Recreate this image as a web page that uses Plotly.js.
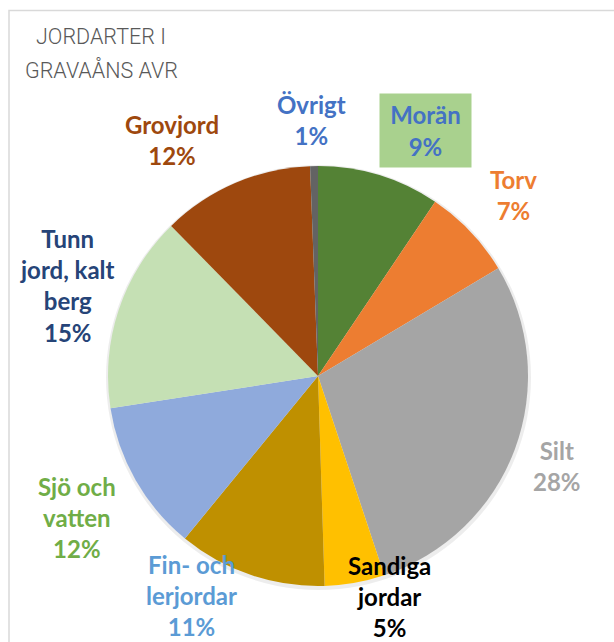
<!DOCTYPE html>
<html>
<head>
<meta charset="utf-8">
<script src="https://cdn.plot.ly/plotly-3.0.1.min.js"></script>
<style>html,body{margin:0;padding:0;background:#fff}#chart{width:614px;height:642px}</style>
</head>
<body>
<div id="chart"></div>
<script>
// ---- data ----
var categories = ["Morän", "Torv", "Silt", "Sandiga jordar", "Fin- och lerjordar", "Sjö och vatten", "Tunn jord, kalt berg", "Grovjord", "Övrigt"];
var values     = [9.4, 7.0, 28.4, 4.6, 11.4, 11.6, 15.1, 11.7, 0.6];
var titleLines = ["JORDARTER I", "GRAVAÅNS AVR"];

// ---- styling / layout ----
var sliceColors = ["#548235", "#ED7D31", "#A5A5A5", "#FFC000", "#BF9000", "#8FAADC", "#C5E0B4", "#9E480E", "#636363"];
var labelColors = ["#4472C4", "#ED7D31", "#A5A5A5", "#000000", "#5B9BD5", "#70AD47", "#264478", "#9E480E", "#4472C4"];
var labelWrap   = ["Morän", "Torv", "Silt", "Sandiga<br>jordar", "Fin- och<br>lerjordar", "Sjö och<br>vatten", "Tunn<br>jord, kalt<br>berg", "Grovjord", "Övrigt"];
var labelPos    = [[425,131],[513,195],[557,466],[390,596],[192,595],[77,517],[67,286],[172,140],[311,120]];
var titlePosY   = [37, 70];
var W = 614, H = 642;
var cx = 318, cy = 376, R = 210;

var total = values.reduce(function(a,b){return a+b;}, 0);
var annotations = categories.map(function(c, i){
  var pct = Math.round(values[i] / total * 100) + "%";
  var a = {
    text: labelWrap[i] + "<br>" + pct,
    xref: "paper", yref: "paper",
    x: labelPos[i][0] / W, y: 1 - labelPos[i][1] / H,
    xanchor: "center", yanchor: "middle",
    showarrow: false, align: "center",
    font: {family: "Lato, 'Open Sans', sans-serif", size: 24, color: labelColors[i], weight: "bold"}
  };
  if (i === 0) { a.bgcolor = "#A9D18E"; a.width = 91; a.height = 73; a.borderpad = 0; }
  return a;
});

// title lines
titleLines.forEach(function(t, i){
  annotations.push({
    text: t,
    xref: "paper", yref: "paper",
    x: 101 / W, y: 1 - titlePosY[i] / H,
    xanchor: "center", yanchor: "middle",
    showarrow: false, align: "center",
    font: {family: "Roboto, sans-serif", size: 21.5, color: "#595959", weight: 300}
  });
});

var trace = {
  type: "pie",
  labels: categories,
  values: values,
  sort: false,
  direction: "clockwise",
  rotation: 0,
  marker: {colors: sliceColors, line: {width: 0}},
  textinfo: "none",
  textposition: "none",
  hoverinfo: "label+percent",
  showlegend: false,
  domain: {x: [(cx - R) / W, (cx + R) / W], y: [1 - (cy + R) / H, 1 - (cy - R) / H]}
};

var layout = {
  width: W, height: H,
  margin: {l: 0, r: 0, t: 0, b: 0},
  paper_bgcolor: "#ffffff",
  showlegend: false,
  annotations: annotations,
  shapes: [
    {type: "circle", xref: "paper", yref: "paper", layer: "below",
     x0: (cx - R - 2) / W, x1: (cx + R + 3) / W, y0: 1 - (cy + R + 4) / H, y1: 1 - (cy - R - 1) / H,
     fillcolor: "rgba(0,0,0,0.07)", line: {width: 0}},
    {type: "rect", xref: "paper", yref: "paper", layer: "above",
     x0: 9 / W, x1: 1.05, y0: -0.05, y1: 1 - 10.5 / H,
     line: {color: "#D9D9D9", width: 1.5}, fillcolor: "rgba(0,0,0,0)"}
  ]
};

Plotly.newPlot("chart", [trace], layout, {displayModeBar: false, staticPlot: true});
</script>
</body>
</html>
